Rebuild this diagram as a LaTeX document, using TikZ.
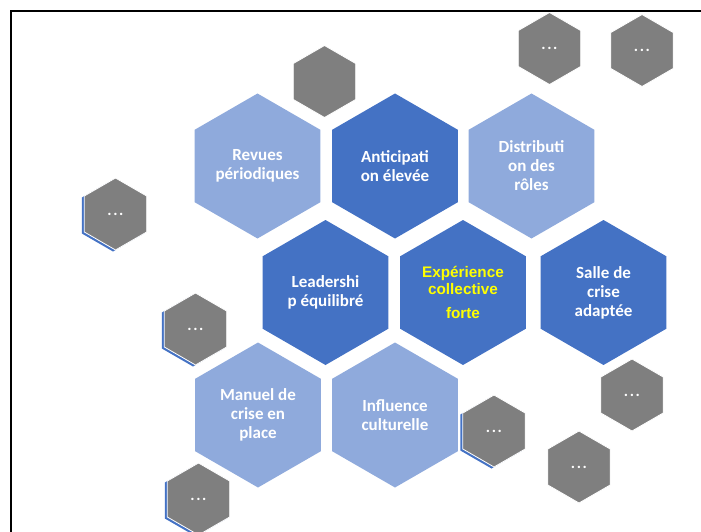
\documentclass[tikz,border=0pt]{standalone}
\usepackage{fontspec}
\setmainfont{Carlito}
\newfontfamily\arialfont{Liberation Sans}
\usetikzlibrary{shapes.geometric}
\definecolor{lightblue}{HTML}{8FAADC}
\definecolor{darkblue}{HTML}{4472C4}
\definecolor{hexgray}{HTML}{7F7F7F}
\definecolor{yel}{HTML}{FFFF00}
\newcommand{\hexdots}{.\hspace{1.6pt}.\hspace{1.6pt}.}
\tikzset{
 hexbase/.style={regular polygon, regular polygon sides=6, shape border rotate=30, inner sep=0pt, outer sep=0pt},
 bighex/.style={hexbase, minimum size=145pt, text=white, align=center, font=\bfseries\fontsize{17}{19}\selectfont},
 lighthex/.style={bighex, fill=lightblue},
 darkhex/.style={bighex, fill=darkblue},
 smallhex/.style={hexbase, minimum size=72pt, fill=hexgray, draw=white, line width=0.8pt, text=white, font=\bfseries\fontsize{16}{18}\selectfont},
 shadowhex/.style={hexbase, minimum size=72pt, fill=darkblue},
 framestyle/.style={line width=2.2pt, black}
}
\begin{document}
\begin{tikzpicture}[x=1pt,y=-1pt]
\useasboundingbox (0,0) rectangle (701,532);
\draw[framestyle] (11,532) -- (11,11) -- (701,11);
% shadows
\node[shadowhex] (sD) at (113,215.5) {};
\node[shadowhex] (sE) at (193,330.5) {};
\node[shadowhex] (sF) at (196,500.5) {};
\node[shadowhex] (sG) at (491.5,432.5) {};
% gray hexagons
\node[smallhex] (gA) at (324.5,81.5) {};
\node[smallhex] (gB) at (549.5,48.5) {\hexdots};
\node[smallhex] (gC) at (642,50.5) {\hexdots};
\node[smallhex] (gD) at (115.5,214) {\hexdots};
\node[smallhex] (gE) at (195.5,329) {\hexdots};
\node[smallhex] (gF) at (198.5,499) {\hexdots};
\node[smallhex] (gG) at (494,431) {\hexdots};
\node[smallhex] (gH) at (632,395) {\hexdots};
\node[smallhex] (gI) at (579,467) {\hexdots};
% main hexagons
\node[lighthex] (rev) at (257.5,166) {Revues\\périodiques};
\node[darkhex] (ant) at (395,166) {Anticipati\\on élevée};
\node[lighthex] (dis) at (531.5,166) {Distributi\\on des\\rôles};
\node[darkhex] (lea) at (325.5,292.5) {Leadershi\\p équilibré};
\node[darkhex, text=yel, font={\arialfont\bfseries\fontsize{15.3}{17}\selectfont}] (exp) at (463,292.5) {Expérience\\collective\\[7pt]forte};
\node[darkhex] (sal) at (603.5,292.5) {Salle de\\crise\\adaptée};
\node[lighthex] (man) at (258,415) {Manuel de\\crise en\\place};
\node[lighthex] (inf) at (395,415) {Influence\\culturelle};
\end{tikzpicture}
\end{document}
